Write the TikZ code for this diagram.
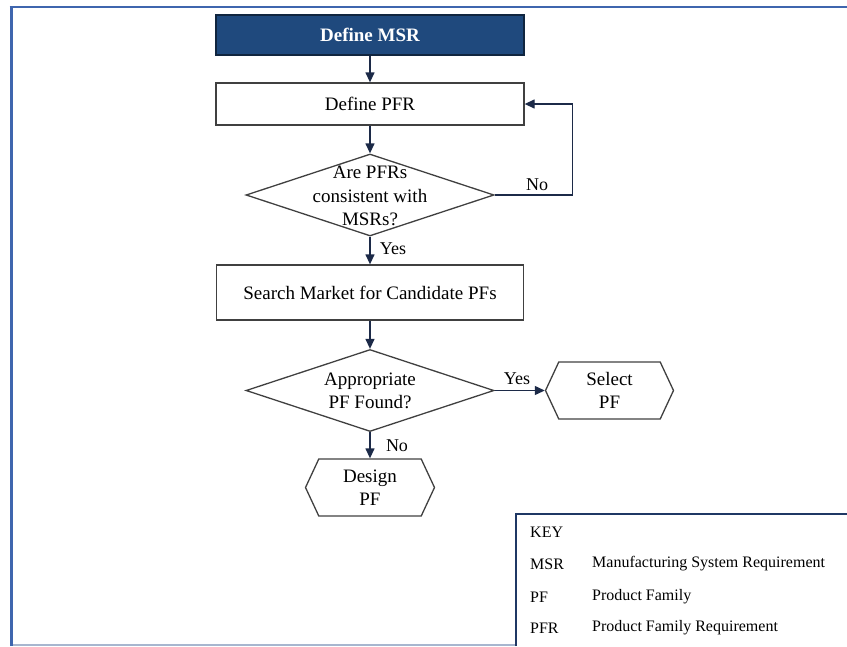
\documentclass[tikz,border=0pt]{standalone}
\usepackage{fontspec}
\setmainfont{Liberation Serif}
\usetikzlibrary{shapes.geometric,shapes.symbols,arrows.meta}
\definecolor{msrfill}{HTML}{1F497D}
\definecolor{msrline}{HTML}{10253F}
\definecolor{frameblue}{HTML}{3F66AE}
\definecolor{framegrey}{HTML}{A7B6CF}
\definecolor{keyblue}{HTML}{1F3864}
\definecolor{arrowcol}{HTML}{1C2A48}
\definecolor{boxline}{HTML}{404040}
\begin{document}
\begin{tikzpicture}[x=1pt,y=-1pt,
  mainfont/.style={font=\fontsize{19}{23.5}\selectfont},
  procbox/.style={draw=boxline, line width=1.3pt, rectangle, minimum width=308pt, minimum height=42pt, inner sep=0pt, mainfont},
  decision/.style={draw=boxline, line width=1.3pt, diamond, minimum width=248pt, minimum height=82pt, inner sep=0pt},
  dtext/.style={align=center, inner sep=0pt, mainfont},
  hexa/.style={draw=boxline, line width=1.3pt, shape=signal, signal to=east and west, signal pointer angle=130, minimum height=57pt, inner sep=0pt, align=center, mainfont},
  arr/.style={draw=arrowcol, line width=1.3pt, -{Triangle[length=10pt,width=9pt]}},
  lbl/.style={inner sep=0pt, font=\fontsize{18}{22}\selectfont},
  keytext/.style={anchor=west, inner sep=0pt, font=\fontsize{16}{19}\selectfont}
]
\useasboundingbox (0,0) rectangle (847,646);
% outer frame
\draw[framegrey, line width=1.5pt] (11,645) -- (516,645);
\draw[frameblue, line width=3pt] (11,646) -- (11,6);
\draw[frameblue, line width=2.5pt] (9.5,7) -- (847,7);

% nodes
\node[procbox, fill=msrfill, draw=msrline, text=white, minimum height=40pt, font=\fontsize{19}{23.5}\selectfont\bfseries] (msr) at (370,35) {Define MSR};
\node[procbox] (pfr) at (370,104) {Define PFR};
\node[decision] (d1) at (370,195) {};
\node[dtext] (d1t) at (370,196) {Are PFRs\\consistent with\\MSRs?};
\node[procbox, minimum height=55pt, minimum width=307pt] (search) at (370,292.5) {Search Market for Candidate PFs};
\node[decision] (d2) at (370,390.5) {};
\node[dtext] (d2t) at (370,391) {Appropriate\\PF Found?};
\node[hexa, minimum width=128pt] (select) at (609.5,390.5) {Select\\PF};
\node[hexa, minimum width=129pt] (design) at (370,487.5) {Design\\PF};

% connectors
\draw[arr] (msr.south) -- (pfr.north);
\draw[arr] (pfr.south) -- (d1.north);
\draw[arr] (d1.east) -- ++(78,0) |- (pfr.east);
\draw[arr] (d1.south) -- (search.north);
\draw[arr] (search.south) -- (d2.north);
\draw[arr] (d2.east) -- (select.west);
\draw[arr] (d2.south) -- (design.north);

% labels
\node[lbl] (lno1) at (537,185) {No};
\node[lbl] (lyes1) at (393,249) {Yes};
\node[lbl] (lyes2) at (517,379) {Yes};
\node[lbl] (lno2) at (397,446) {No};

% key
\draw[keyblue, line width=2pt] (516,646) -- (516,514) -- (847,514);
\node[keytext] (kkey) at (530,532) {KEY};
\node[keytext] (kmsr) at (530,564) {MSR};
\node[keytext] (kmsrd) at (592,564) {Manufacturing System Requirement};
\node[keytext] (kpf) at (530,597) {PF};
\node[keytext] (kpfd) at (592,597) {Product Family};
\node[keytext] (kpfr) at (530,628) {PFR};
\node[keytext] (kpfrd) at (592,628) {Product Family Requirement};
\end{tikzpicture}
\end{document}
